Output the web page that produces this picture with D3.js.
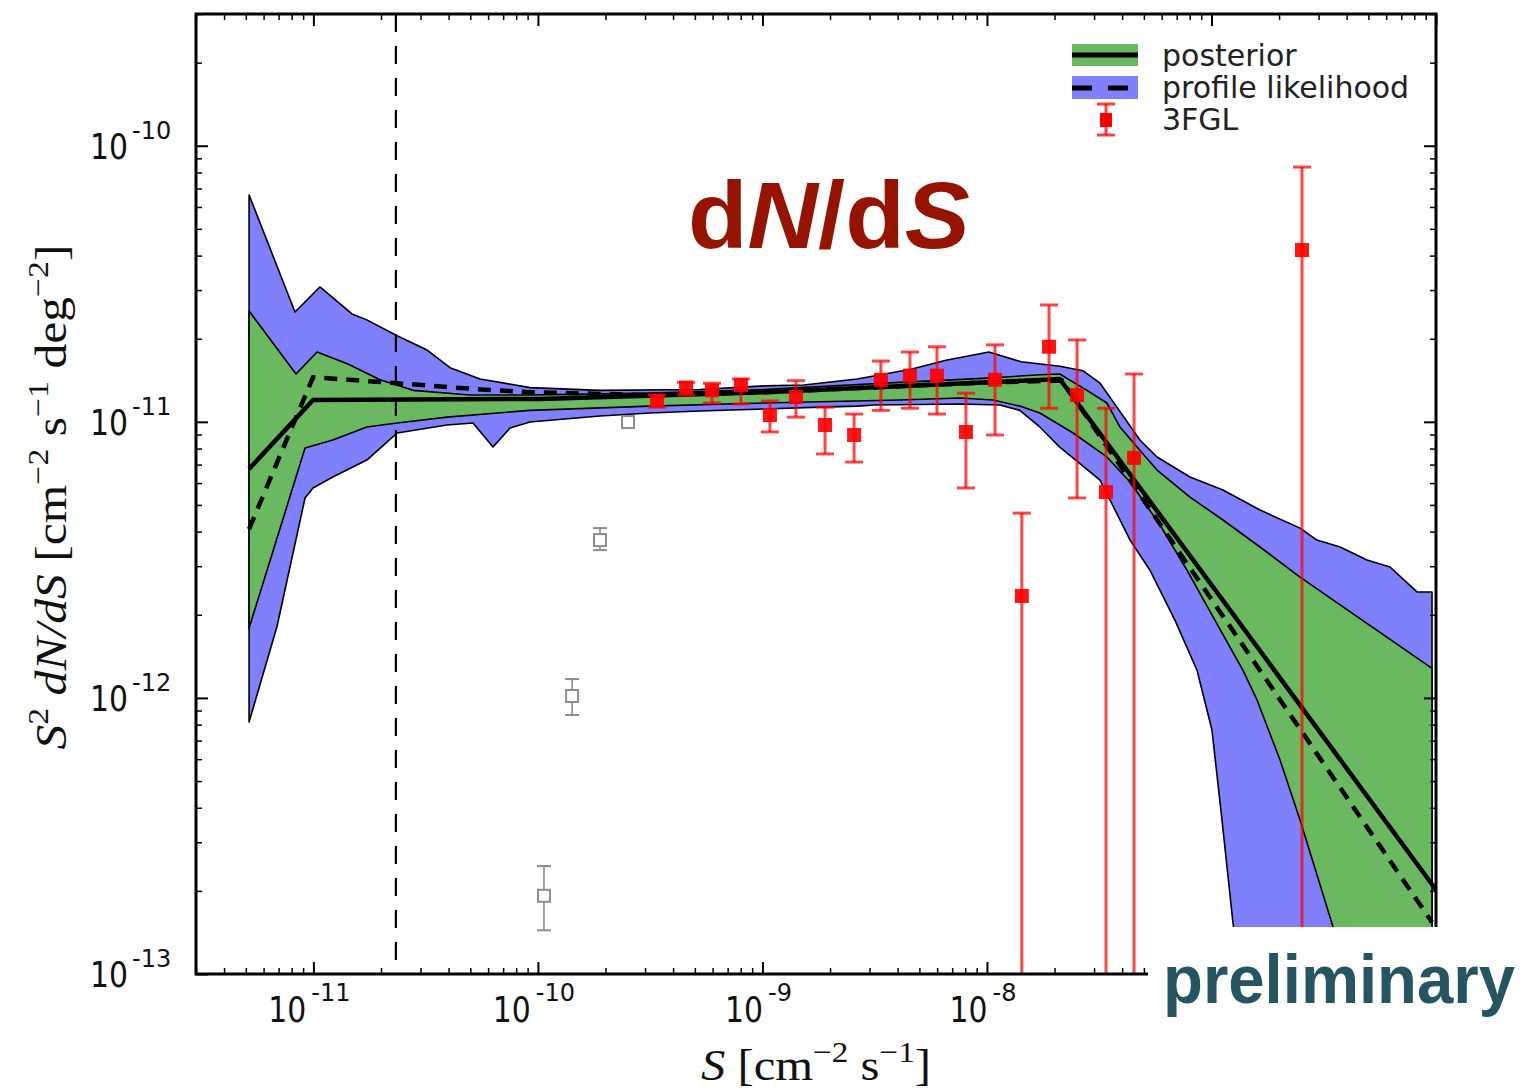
<!DOCTYPE html>
<html><head><meta charset="utf-8">
<script src="https://cdn.jsdelivr.net/npm/d3@7"></script>
<style>body{margin:0;background:#fff} svg{display:block}</style>
</head><body>
<svg id="chart" width="1537" height="1092"></svg>
<script>
// ---- DATA ----
const blueUpperS = [5.17e-12, 8.28e-12, 1.07e-11, 1.485e-11, 1.73e-11, 2.36e-11, 3.21e-11, 4.06e-11, 5.52e-11, 9.22e-11, 1.89e-10, 5.27e-10, 1.016e-9, 1.53e-9, 2.64e-9, 4.59e-9, 6.57e-9, 1.02e-8, 1.42e-8, 2.11e-8, 2.68e-8, 3.19e-8, 3.79e-8, 4.80e-8, 5.72e-8, 8.02e-8, 1.125e-7, 1.645e-7, 2.48e-7, 2.95e-7, 3.74e-7, 4.93e-7, 6.24e-7, 8.23e-7, 9.60e-7];
const blueUpperV = [6.63e-11, 2.50e-11, 3.08e-11, 2.46e-11, 2.34e-11, 2.05e-11, 1.82e-11, 1.57e-11, 1.43e-11, 1.33e-11, 1.30e-11, 1.31e-11, 1.35e-11, 1.36e-11, 1.43e-11, 1.55e-11, 1.67e-11, 1.79e-11, 1.65e-11, 1.59e-11, 1.53e-11, 1.38e-11, 1.13e-11, 8.59e-12, 7.46e-12, 6.31e-12, 5.66e-12, 4.79e-12, 4.12e-12, 3.73e-12, 3.52e-12, 3.16e-12, 2.98e-12, 2.42e-12, 2.42e-12];

const blueLowerS = [5.17e-12, 6.88e-12, 9.18e-12, 9.96e-12, 1.22e-11, 1.73e-11, 2.36e-11, 3.94e-11, 5.14e-11, 6.31e-11, 7.51e-11, 9.22e-11, 1.89e-10, 3.16e-10, 5.27e-10, 1.016e-9, 1.82e-9, 2.64e-9, 3.17e-9, 7.58e-9, 1.14e-8, 1.40e-8, 1.72e-8, 2.11e-8, 3.19e-8, 4.34e-8, 5.32e-8, 6.88e-8, 8.62e-8, 1.005e-7, 1.114e-7, 1.247e-7, 1.41e-7, 9.6e-7];
const blueLowerV = [8.18e-13, 1.81e-12, 5.30e-12, 5.76e-12, 6.31e-12, 7.27e-12, 9.11e-12, 9.74e-12, 9.90e-12, 8.10e-12, 9.50e-12, 9.98e-12, 1.05e-11, 1.076e-11, 1.095e-11, 1.113e-11, 1.13e-11, 1.14e-11, 1.15e-11, 1.16e-11, 1.15e-11, 1.10e-11, 9.58e-12, 8.10e-12, 6.15e-12, 3.73e-12, 2.90e-12, 1.91e-12, 1.26e-12, 7.65e-13, 3.61e-13, 1.53e-13, 8.05e-14, 1e-15];

const greenUpperS = [5.17e-12, 8.37e-12, 1.038e-11, 1.425e-11, 1.98e-11, 2.78e-11, 4.98e-11, 9.22e-11, 3.16e-10, 1.016e-9, 4.10e-9, 1.01e-8, 1.72e-8, 2.11e-8, 2.79e-8, 3.42e-8, 3.91e-8, 4.66e-8, 5.72e-8, 8.02e-8, 1.125e-7, 1.645e-7, 2.48e-7, 9.6e-7];
const greenUpperV = [2.52e-11, 1.49e-11, 1.79e-11, 1.62e-11, 1.42e-11, 1.30e-11, 1.25e-11, 1.25e-11, 1.27e-11, 1.31e-11, 1.39e-11, 1.44e-11, 1.48e-11, 1.49e-11, 1.30e-11, 1.17e-11, 9.58e-12, 8.10e-12, 6.69e-12, 5.34e-12, 4.41e-12, 3.52e-12, 2.74e-12, 1.28e-12];

const greenLowerS = [5.17e-12, 9.18e-12, 1.22e-11, 1.73e-11, 2.36e-11, 3.94e-11, 9.22e-11, 3.16e-10, 1.016e-9, 4.10e-9, 7.58e-9, 1.064e-8, 1.40e-8, 1.72e-8, 2.42e-8, 3.42e-8, 4.34e-8, 5.90e-8, 7.78e-8, 1.037e-7, 1.38e-7, 1.595e-7, 2.02e-7, 2.48e-7, 3.48e-7, 4.14e-7, 9.6e-7];
const greenLowerV = [1.79e-12, 8.04e-12, 8.59e-12, 9.58e-12, 9.90e-12, 1.04e-11, 1.10e-11, 1.14e-11, 1.17e-11, 1.20e-11, 1.22e-11, 1.20e-11, 1.14e-11, 1.076e-11, 9.11e-12, 7.46e-12, 6.05e-12, 4.23e-12, 2.90e-12, 1.91e-12, 1.26e-12, 9.83e-13, 5.96e-13, 3.61e-13, 1.48e-13, 9.5e-14, 1e-15];

const posteriorS = [5.17e-12, 9.96e-12, 1.02e-10, 1.016e-9, 1.01e-8, 2.11e-8, 1e-6];
const posteriorV = [6.75e-12, 1.20e-11, 1.21e-11, 1.28e-11, 1.39e-11, 1.43e-11, 2.02e-13];

const profileS = [5.17e-12, 9.96e-12, 2.36e-11, 5.52e-11, 9.22e-11, 3.16e-10, 1.016e-9, 1.01e-8, 2.16e-8, 9.6e-7];
const profileV = [4.09e-12, 1.45e-11, 1.38e-11, 1.31e-11, 1.28e-11, 1.25e-11, 1.28e-11, 1.39e-11, 1.41e-11, 1.54e-13];

const fglS  = [3.39e-10, 4.57e-10, 5.96e-10, 8.02e-10, 1.08e-9, 1.41e-9, 1.90e-9, 2.56e-9, 3.37e-9, 4.54e-9, 5.99e-9, 8.06e-9, 1.086e-8, 1.43e-8, 1.89e-8, 2.52e-8, 3.39e-8, 4.52e-8, 2.53e-7];
const fglV  = [1.19e-11, 1.33e-11, 1.30e-11, 1.36e-11, 1.058e-11, 1.23e-11, 9.74e-12, 8.96e-12, 1.42e-11, 1.47e-11, 1.47e-11, 9.19e-12, 1.42e-11, 2.34e-12, 1.87e-11, 1.25e-11, 5.57e-12, 7.40e-12, 4.19e-11];
const fglHi = [1.25e-11, 1.39e-11, 1.38e-11, 1.43e-11, 1.19e-11, 1.41e-11, 1.13e-11, 1.067e-11, 1.66e-11, 1.79e-11, 1.87e-11, 1.27e-11, 1.90e-11, 4.67e-12, 2.65e-11, 1.98e-11, 1.12e-11, 1.49e-11, 8.37e-11];
const fglLo = [1.13e-11, 1.25e-11, 1.17e-11, 1.16e-11, 9.19e-12, 1.04e-11, 7.65e-12, 7.15e-12, 1.10e-11, 1.12e-11, 1.067e-11, 5.76e-12, 8.96e-12, 1e-14, 1.12e-11, 5.30e-12, 1e-14, 1e-14, 1e-14];

const faintS  = [1.064e-10, 1.42e-10, 1.89e-10, 2.52e-10];
const faintV  = [1.92e-13, 1.016e-12, 3.73e-12, 9.98e-12];
const faintHi = [2.46e-13, 1.17e-12, 4.12e-12, 1.02e-11];
const faintLo = [1.44e-13, 8.67e-13, 3.43e-12, 9.7e-12];

const thresholdS = 2.33e-11;

const yTickVals = [1e-13, 1e-12, 1e-11, 1e-10];
const yTickExp  = ["-13", "-12", "-11", "-10"];
const xTickVals = [1e-11, 1e-10, 1e-9, 1e-8];
const xTickExp  = ["-11", "-10", "-9", "-8"];
const legendLabels = ["posterior", "profile likelihood", "3FGL"];

// ---- CHART ----
const svg = d3.select("#chart");
svg.append("rect").attr("width",1537).attr("height",1092).attr("fill","#fff");
const L=196, R=1436, T=14, B=974;
const x = d3.scaleLog().domain([3e-12,1e-6]).range([L,R]);
const y = d3.scaleLog().domain([1e-13,3e-10]).range([B,T]);
const BLUE="#8080fd", GREEN="#6ab960";

svg.append("defs").append("clipPath").attr("id","plotclip")
  .append("rect").attr("x",L).attr("y",T).attr("width",R-L).attr("height",B-T);
const plot = svg.append("g").attr("clip-path","url(#plotclip)");

function band(uS,uV,lS,lV){
  const up = uS.map((s,i)=>[x(s),y(uV[i])]);
  const lo = lS.map((s,i)=>[x(s),y(lV[i])]).reverse();
  return d3.line()(up.concat(lo))+"Z";
}
plot.append("path").attr("d",band(blueUpperS,blueUpperV,blueLowerS,blueLowerV))
  .attr("fill",BLUE).attr("stroke","#000").attr("stroke-width",1.6).attr("stroke-linejoin","round");
plot.append("path").attr("d",band(greenUpperS,greenUpperV,greenLowerS,greenLowerV))
  .attr("fill",GREEN).attr("stroke","#000").attr("stroke-width",1.6).attr("stroke-linejoin","round");

// threshold
plot.append("line").attr("x1",x(thresholdS)).attr("x2",x(thresholdS)).attr("y1",T).attr("y2",B)
  .attr("stroke","#000").attr("stroke-width",2.2).attr("stroke-dasharray","18,14");

const line = d3.line().x(d=>x(d[0])).y(d=>y(d[1]));
plot.append("path").attr("d",line(profileS.map((s,i)=>[s,profileV[i]])))
  .attr("fill","none").attr("stroke","#000").attr("stroke-width",4.5).attr("stroke-dasharray","13,9");
plot.append("path").attr("d",line(posteriorS.map((s,i)=>[s,posteriorV[i]])))
  .attr("fill","none").attr("stroke","#000").attr("stroke-width",4.5);

// faint (grey) points
const fg = plot.append("g");
faintS.forEach((s,i)=>{
  const cx=x(s);
  fg.append("line").attr("x1",cx).attr("x2",cx).attr("y1",y(faintHi[i])).attr("y2",y(faintLo[i])).attr("stroke","#8c8c8c").attr("stroke-width",1.6);
  [faintHi[i],faintLo[i]].forEach(v=>fg.append("line").attr("x1",cx-7).attr("x2",cx+7).attr("y1",y(v)).attr("y2",y(v)).attr("stroke","#8c8c8c").attr("stroke-width",2));
  fg.append("rect").attr("x",cx-6).attr("y",y(faintV[i])-6).attr("width",12).attr("height",12).attr("fill","#fff").attr("stroke","#8c8c8c").attr("stroke-width",2);
});

// 3FGL points
const rg = plot.append("g");
fglS.forEach((s,i)=>{
  const cx=x(s);
  rg.append("line").attr("x1",cx).attr("x2",cx).attr("y1",y(fglHi[i])).attr("y2",y(fglLo[i])).attr("stroke","#ff0000").attr("stroke-opacity",0.72).attr("stroke-width",3);
  [fglHi[i],fglLo[i]].forEach(v=>rg.append("line").attr("x1",cx-9).attr("x2",cx+9).attr("y1",y(v)).attr("y2",y(v)).attr("stroke","#ff0000").attr("stroke-opacity",0.72).attr("stroke-width",3));
  rg.append("rect").attr("x",cx-7).attr("y",y(fglV[i])-7).attr("width",14).attr("height",14).attr("fill","#ff0000").attr("fill-opacity",0.92);
});

// ticks
const majorX=[1e-11,1e-10,1e-9,1e-8,1e-7,1e-6], majorY=[1e-13,1e-12,1e-11,1e-10];
const minorX=[], minorY=[];
for(let e=-12;e<=-7;e++) for(let k=2;k<=9;k++){const v=k*Math.pow(10,e); if(v>=2.99e-12 && v<=1.001e-6) minorX.push(v);}
for(let e=-13;e<=-10;e++) for(let k=2;k<=9;k++){const v=k*Math.pow(10,e); if(v<=3.01e-10) minorY.push(v);}
function axis(fn,scale,vals,size,tr){
  const g=svg.append("g").attr("transform",tr).call(fn(scale).tickValues(vals).tickSize(size).tickFormat(""));
  g.select(".domain").remove();
  g.selectAll(".tick line").attr("stroke","#000").attr("stroke-width",size<-8?2:1.5);
}
axis(d3.axisBottom,x,majorX,-12,`translate(0,${B})`);
axis(d3.axisBottom,x,minorX,-6,`translate(0,${B})`);
axis(d3.axisTop,x,majorX,-12,`translate(0,${T})`);
axis(d3.axisTop,x,minorX,-6,`translate(0,${T})`);
axis(d3.axisLeft,y,majorY,-12,`translate(${L},0)`);
axis(d3.axisLeft,y,minorY,-6,`translate(${L},0)`);
axis(d3.axisRight,y,majorY,-12,`translate(${R},0)`);
axis(d3.axisRight,y,minorY,-6,`translate(${R},0)`);
svg.append("rect").attr("x",L).attr("y",T).attr("width",R-L).attr("height",B-T)
  .attr("fill","none").attr("stroke","#000").attr("stroke-width",3);

// tick labels
const TF="'DejaVu Sans', sans-serif";
yTickVals.forEach((v,i)=>{
  const yy=y(v);
  svg.append("text").attr("x",90).attr("y",yy+13).attr("textLength",38).attr("lengthAdjust","spacingAndGlyphs")
    .style("font-family",TF).style("font-size","36px").attr("fill","#111").text("10");
  svg.append("text").attr("x",132).attr("y",yy-7).style("font-family",TF).style("font-size","24px").attr("fill","#111").text(yTickExp[i]);
});
xTickVals.forEach((v,i)=>{
  const cx=x(v)-4;
  const ex=svg.append("text").attr("y",1001).style("font-family",TF).style("font-size","24px").attr("fill","#111").text(xTickExp[i]);
  const w=ex.node().getComputedTextLength();
  const left=cx-(43+w)/2;
  ex.attr("x",left+43);
  svg.append("text").attr("x",left).attr("y",1022).attr("textLength",38).attr("lengthAdjust","spacingAndGlyphs")
    .style("font-family",TF).style("font-size","36px").attr("fill","#111").text("10");
});

// axis labels
const SF="'Liberation Serif','DejaVu Serif',serif";
const yl=svg.append("text").attr("transform","translate(66,497) rotate(-90)").attr("text-anchor","middle")
  .style("font-family",SF).style("font-size","44px").attr("fill","#111");
yl.append("tspan").style("font-style","italic").text("S");
yl.append("tspan").attr("dy",-18).style("font-size","30px").text("2");
yl.append("tspan").attr("dy",18).style("font-style","italic").text(" dN/dS");
yl.append("tspan").text(" [cm");
yl.append("tspan").attr("dy",-18).style("font-size","30px").text("−2");
yl.append("tspan").attr("dy",18).text(" s");
yl.append("tspan").attr("dy",-18).style("font-size","30px").text("−1");
yl.append("tspan").attr("dy",18).text(" deg");
yl.append("tspan").attr("dy",-18).style("font-size","30px").text("−2");
yl.append("tspan").attr("dy",18).text("]");
yl.attr("textLength",505).attr("lengthAdjust","spacingAndGlyphs");

const xl=svg.append("text").attr("x",816).attr("y",1080).attr("text-anchor","middle")
  .style("font-family",SF).style("font-size","44px").attr("fill","#111");
xl.append("tspan").style("font-style","italic").text("S");
xl.append("tspan").text(" [cm");
xl.append("tspan").attr("dy",-18).style("font-size","30px").text("−2");
xl.append("tspan").attr("dy",18).text(" s");
xl.append("tspan").attr("dy",-18).style("font-size","30px").text("−1");
xl.append("tspan").attr("dy",18).text("]");
xl.attr("textLength",230).attr("lengthAdjust","spacingAndGlyphs");

// legend
const lg=svg.append("g");
lg.append("rect").attr("x",1072).attr("y",44).attr("width",66).attr("height",22).attr("fill",GREEN);
lg.append("line").attr("x1",1072).attr("x2",1138).attr("y1",55).attr("y2",55).attr("stroke","#000").attr("stroke-width",5);
lg.append("rect").attr("x",1072).attr("y",76).attr("width",66).attr("height",23).attr("fill",BLUE);
lg.append("line").attr("x1",1072).attr("x2",1138).attr("y1",88).attr("y2",88).attr("stroke","#000").attr("stroke-width",5).attr("stroke-dasharray","20,16");
lg.append("line").attr("x1",1106).attr("x2",1106).attr("y1",104).attr("y2",135).attr("stroke","#ff0000").attr("stroke-opacity",0.75).attr("stroke-width",3);
[104,135].forEach(v=>lg.append("line").attr("x1",1097).attr("x2",1115).attr("y1",v).attr("y2",v).attr("stroke","#ff0000").attr("stroke-opacity",0.75).attr("stroke-width",3));
lg.append("rect").attr("x",1100).attr("y",113).attr("width",12).attr("height",14).attr("fill","#ff0000");
legendLabels.forEach((t,i)=>{
  lg.append("text").attr("x",1162).attr("y",66+i*32).style("font-family",TF).style("font-size","30px").attr("fill","#222").text(t);
});

// title
const tt=svg.append("text").attr("x",688).attr("y",248)
  .style("font-family","'Liberation Sans', Arial, sans-serif").style("font-weight","bold").style("font-size","95px").attr("fill","#961300");
tt.append("tspan").text("d");
tt.append("tspan").style("font-style","italic").text("N");
tt.append("tspan").text("/d");
tt.append("tspan").style("font-style","italic").text("S");
tt.attr("textLength",282).attr("lengthAdjust","spacingAndGlyphs");

// preliminary overlay
svg.append("rect").attr("x",1148).attr("y",927).attr("width",389).attr("height",165).attr("fill","#fff");
svg.append("text").attr("x",1163).attr("y",1003).attr("textLength",352).attr("lengthAdjust","spacingAndGlyphs")
  .style("font-family","'Liberation Sans', Arial, sans-serif").style("font-weight","bold").style("font-size","68px")
  .attr("fill","#265562").text("preliminary");
</script>
</body></html>
